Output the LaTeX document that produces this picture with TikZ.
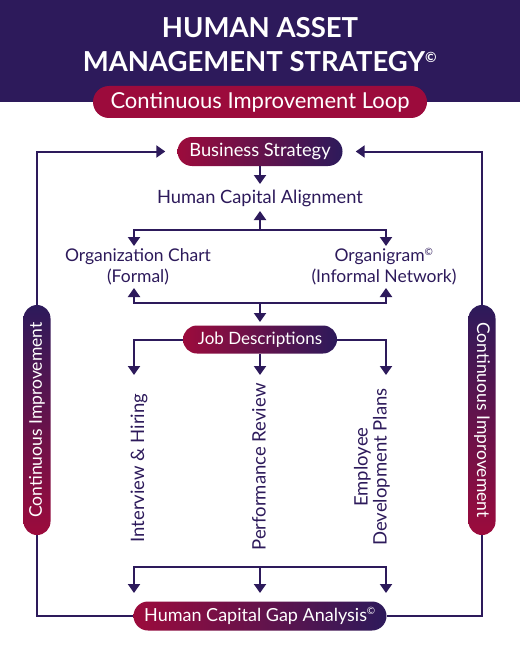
\documentclass[tikz,border=0pt]{standalone}
\usepackage{fontspec}
\setmainfont{Lato}
\usetikzlibrary{arrows.meta}
\definecolor{hpurple}{HTML}{2D1A5B}
\definecolor{hred}{HTML}{9C0B3C}
\newcommand{\fsz}[1]{\fontsize{#1}{#1}\selectfont}
\begin{document}
\begin{tikzpicture}[x=1pt,y=-1pt,
  arr/.style={line width=2pt, draw=hpurple, -{Triangle[width=12pt,length=9pt]}},
  ln/.style={line width=2pt, draw=hpurple},
  pill/.style={rectangle, inner sep=0pt, text=white, font=\fsz{18}},
  gradpill/.style={pill, left color=hred, right color=hpurple},
  lbl/.style={text=hpurple, font=\fontsize{18}{21}\selectfont, align=center, inner sep=0pt},
  ttl/.style={text=white, font=\fontsize{27.5}{32}\selectfont\bfseries, inner sep=0pt}]
\useasboundingbox (0,0) rectangle (520,650);
\fill[white] (0,0) rectangle (520,650);
\fill[hpurple] (0,0) rectangle (520,102);
\node[ttl] (t1) at (260,28) {HUMAN ASSET};
\node[ttl] (t2) at (260,62) {MANAGEMENT STRATEGY\textsuperscript{\fsz{14}©}};
\node[pill, fill=hred, rounded corners=16pt, minimum width=334pt, minimum height=32pt, font=\fsz{22}] (loop) at (260,102) {Continuous Improvement Loop};

\node[gradpill, rounded corners=14.5pt, minimum width=165pt, minimum height=29pt, font=\fsz{18.3}] (bs) at (260,151.5) {Business Strategy};
\node[lbl, font=\fsz{18.3}] (hca) at (260,198) {Human Capital Alignment};
\node[lbl, font=\fontsize{17.5}{21}\selectfont] (oc) at (138,267) {Organization Chart\\(Formal)};
\node[lbl, font=\fontsize{17.5}{21}\selectfont] (og) at (384,267) {Organigram\textsuperscript{\fsz{10}©}\\(Informal Network)};
\node[gradpill, rounded corners=14pt, minimum width=154pt, minimum height=28pt, font=\fsz{17}] (jd) at (260,339.5) {Job Descriptions};
\node[lbl, rotate=90, font=\fsz{18.5}] (ih) at (139,468) {Interview \& Hiring};
\node[lbl, rotate=90, font=\fsz{18.5}] (pr) at (259,467) {Performance Review};
\node[lbl, rotate=90, font=\fontsize{18.5}{19}\selectfont] (ed) at (372,467) {Employee\\Development Plans};
\node[gradpill, rounded corners=14.5pt, minimum width=253pt, minimum height=29pt] (gap) at (260,616) {Human Capital Gap Analysis\textsuperscript{\fsz{10}©}};

\node[pill, rounded corners=13.5pt, minimum width=27pt, minimum height=230pt, top color=hpurple, bottom color=hred] (lci) at (37,420) {};
\node[pill, rotate=90, font=\fsz{17.5}] (lcit) at (lci.center) {Continuous Improvement};
\node[pill, rounded corners=13.5pt, minimum width=27pt, minimum height=230pt, top color=hpurple, bottom color=hred] (rci) at (482,420) {};
\node[pill, rotate=-90, font=\fsz{17.5}] (rcit) at (rci.center) {Continuous Improvement};

\coordinate (hcaIn) at (260,184);
\coordinate (hcaOut) at (260,211);
\coordinate (bar1) at (260,230);
\coordinate (ocIn) at (134,246);
\coordinate (ogIn) at (386,246);
\coordinate (ocOut) at (134,288);
\coordinate (ogOut) at (386,288);
\coordinate (bar2) at (260,303);
\coordinate (jdIn) at (260,322);
\coordinate (ihIn) at (134,375);
\coordinate (prIn) at (260,375);
\coordinate (edIn) at (386,375);
\coordinate (bar3) at (260,567);
\coordinate (g1) at (134,593);
\coordinate (g2) at (260,593);
\coordinate (g3) at (386,593);

\draw[arr, shorten >=12pt] (lci.north) |- (bs.west);
\draw[arr, shorten >=13pt] (rci.north) |- (bs.east);
\draw[ln] (lci.south) |- (gap.west);
\draw[ln] (rci.south) |- (gap.east);

\draw[arr] (bs.south) -- (hcaIn);
\draw[arr] (bar1) -- (hcaOut);
\draw[arr] (bar1) -| (ocIn);
\draw[arr] (bar1) -| (ogIn);
\draw[arr] (bar2) -| (ocOut);
\draw[arr] (bar2) -| (ogOut);
\draw[arr] (bar2) -- (jdIn);
\draw[arr] (jd.west) -| (ihIn);
\draw[arr] (jd.south) -- (prIn);
\draw[arr] (jd.east) -| (edIn);
\draw[arr] (bar3) -| (g1);
\draw[arr] (bar3) -- (g2);
\draw[arr] (bar3) -| (g3);
\end{tikzpicture}
\end{document}
